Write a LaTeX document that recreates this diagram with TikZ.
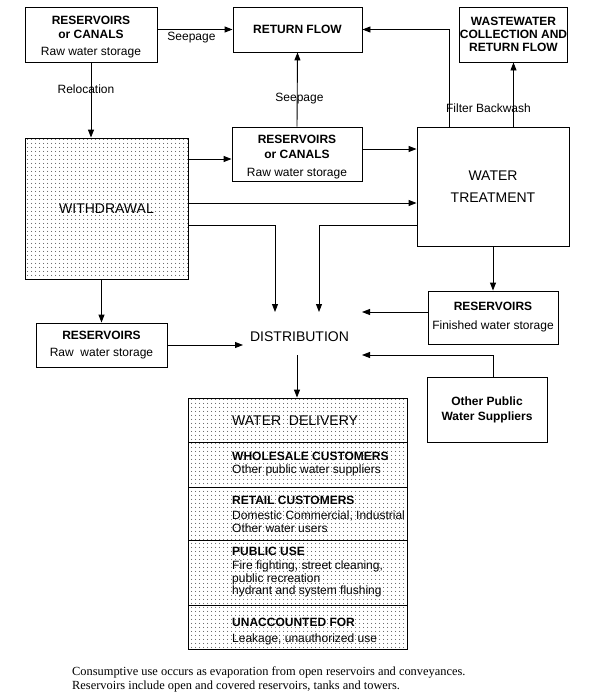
\documentclass[tikz,border=0pt]{standalone}
\usepackage{fontspec}
\setmainfont{Liberation Sans}
\newfontfamily\serifnote{Liberation Serif}
\usetikzlibrary{arrows.meta,patterns.meta}
\tikzset{
  box/.style={draw, line width=0.9pt, inner sep=0pt, align=center,
    font=\fontsize{12}{14}\selectfont},
  dotfill/.style={pattern={Dots[distance=4pt,radius=0.5pt]}},
  conn/.style={line width=0.9pt, -{Triangle[length=8pt,width=6pt]}},
  lbl/.style={inner sep=0pt, font=\fontsize{12}{14}\selectfont},
  big/.style={inner sep=0pt, font=\fontsize{14}{22}\selectfont},
  row/.style={inner sep=0pt, anchor=base west, font=\fontsize{12}{14}\selectfont},
  rowhead/.style={row, font=\fontsize{12}{14}\selectfont\bfseries},
  note/.style={inner sep=0pt, anchor=base west, font=\serifnote\fontsize{12.4}{14}\selectfont},
}
\begin{document}
\begin{tikzpicture}[x=1pt,y=-1pt]
\useasboundingbox (0,0) rectangle (592,699);

% boxes
\node[box, minimum width=132, minimum height=55] (r1) at (91,34.5)
  {\rule{0pt}{14pt}\bfseries RESERVOIRS\\ \bfseries or CANALS\\[3pt] Raw water storage};
\node[box, minimum width=129, minimum height=45] (rf) at (297.5,29.5)
  {\bfseries RETURN FLOW};
\node[box, minimum width=107, minimum height=55, font=\fontsize{12}{13}\selectfont\bfseries] (ww) at (513.5,34.5)
  {WASTEWATER\\COLLECTION AND\\RETURN FLOW};
\node[box, dotfill, minimum width=163, minimum height=141, font=\fontsize{14}{16}\selectfont] (wd) at (106.5,208.5)
  {WITHDRAWAL};
\node[box, minimum width=130, minimum height=54, font=\fontsize{12}{15}\selectfont] (r2) at (297,154)
  {\rule{0pt}{14pt}\bfseries RESERVOIRS\\ \bfseries or CANALS\\[3pt] Raw water storage};
\node[box, minimum width=152, minimum height=119, font=\fontsize{14}{22}\selectfont] (wt) at (493,186.5)
  {WATER\\TREATMENT};
\node[box, minimum width=130, minimum height=53, font=\fontsize{12}{19}\selectfont] (r3) at (493,317.5)
  {\bfseries RESERVOIRS\\Finished water storage};
\node[box, minimum width=131, minimum height=44, font=\fontsize{12}{17}\selectfont] (r4) at (101.5,345)
  {\bfseries RESERVOIRS\\Raw\ \ water storage};
\node[box, minimum width=120, minimum height=65, font=\fontsize{12}{15}\selectfont\bfseries] (op) at (487,409.5)
  {Other Public\\Water Suppliers};
\node[big] (dist) at (299.5,337) {DISTRIBUTION};

% water delivery table
\node[box, dotfill, minimum width=219, minimum height=251] (del) at (297.5,523.5) {};
\coordinate (s1) at (188,442);
\coordinate (s2) at (188,487);
\coordinate (s3) at (188,540);
\coordinate (s4) at (188,605);
\foreach \s in {s1,s2,s3,s4} \draw[line width=0.9pt] (\s) -- (\s -| del.east);

\node[inner sep=0pt, anchor=base west, font=\fontsize{14}{16}\selectfont] (t0) at (232,425) {WATER\ \ DELIVERY};
\node[rowhead] (t1) at (232,460.5) {WHOLESALE CUSTOMERS};
\node[row] (t1a) at (232,473) {Other public water suppliers};
\node[rowhead] (t2) at (232,504.5) {RETAIL CUSTOMERS};
\node[row] (t2a) at (232,519) {Domestic Commercial, Industrial};
\node[row] (t2b) at (232,532) {Other water users};
\node[rowhead] (t3) at (232,555.5) {PUBLIC USE};
\node[row] (t3a) at (232,569) {Fire fighting, street cleaning,};
\node[row] (t3b) at (232,582) {public recreation};
\node[row] (t3c) at (232,594) {hydrant and system flushing};
\node[rowhead] (t4) at (232,626.5) {UNACCOUNTED FOR};
\node[row] (t4a) at (232,642) {Leakage, unauthorized use};

% free connector ends near DISTRIBUTION
\coordinate (d1) at (275,312);
\coordinate (d2) at (319,312);
\coordinate (d3) at (362,312);
\coordinate (d4) at (362,355);
\coordinate (d5) at (243,345);
\coordinate (d6) at (297,355);

% connectors
\draw[conn] (r1.east |- rf.west) -- (rf.west);
\draw[conn] (r1.south) -- (r1.south |- wd.north);
\draw[conn] (r2.north) -- (rf.south);
\draw[conn] ([xshift=-44pt]wt.north) |- (rf.east);
\draw[conn] (ww.south |- wt.north) -- (ww.south);
\draw[conn] (wd.east |- 0,159) -- (r2.west |- 0,159);
\draw[conn] (r2.east |- 0,149) -- (wt.west |- 0,149);
\draw[conn] (wd.east |- 0,203) -- (wt.west |- 0,203);
\draw[conn] (wd.east |- 0,225) -| (d1);
\draw[conn] (wt.west |- 0,225) -| (d2);
\draw[conn] (wt.south) -- (r3.north);
\draw[conn] (r3.west |- d3) -- (d3);
\draw[conn] (r3.south |- op.north) |- (d4);
\draw[conn] (wd.south -| r4.north) -- (r4.north);
\draw[conn] (r4.east) -- (d5);
\draw[conn] (d6) -- (d6 |- del.north);

% connector labels
\node[lbl] (l1) at (191.5,38) {Seepage};
\node[lbl] (l2) at (86,89) {Relocation};
\node[lbl] (l3) at (299.5,99) {Seepage};
\node[lbl] (l4) at (488.5,108) {Filter Backwash};

% notes
\node[note] (n1) at (72,675) {Consumptive use occurs as evaporation from open reservoirs and conveyances.};
\node[note] (n2) at (72,689) {Reservoirs include open and covered reservoirs, tanks and towers.};
\end{tikzpicture}
\end{document}
